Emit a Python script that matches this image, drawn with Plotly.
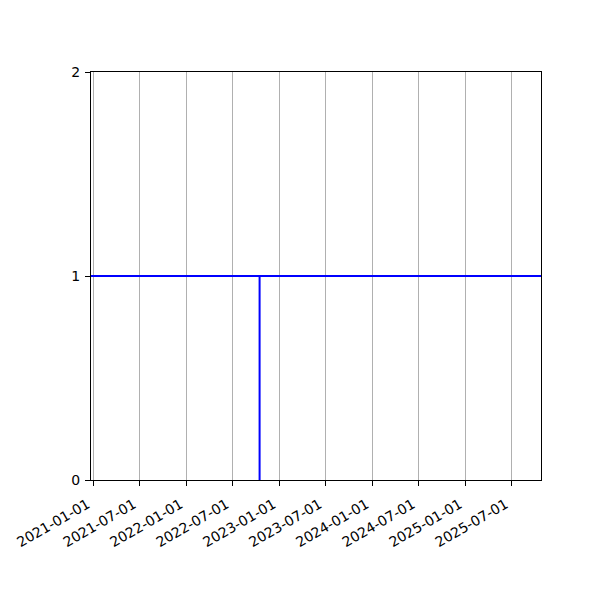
import plotly.graph_objects as go

# data
dates = ["2020-12-22", "2022-10-15", "2022-10-15", "2022-10-15", "2025-10-24"]
values = [1, 1, 0, 1, 1]
tick_dates = ["2021-01-01", "2021-07-01", "2022-01-01", "2022-07-01", "2023-01-01",
              "2023-07-01", "2024-01-01", "2024-07-01", "2025-01-01", "2025-07-01"]
x_limits = ["2020-12-22", "2025-10-24"]
y_ticks = [0, 1, 2]

fig = go.Figure()
fig.add_trace(go.Scatter(x=dates, y=values, mode="lines",
                         line=dict(color="#0000ff", width=2), showlegend=False))

# page body has an 8px default margin, so shift the plot area back by that
fig.update_layout(
    width=600, height=600,
    margin=dict(l=83, r=67, t=64, b=128, autoexpand=False),
    paper_bgcolor="white", plot_bgcolor="white",
    font=dict(family="DejaVu Sans", size=14, color="black"),
)
fig.update_xaxes(
    range=x_limits, tickvals=tick_dates, ticktext=tick_dates, tickangle=-30,
    showgrid=True, gridcolor="#b0b0b0", gridwidth=1,
    showline=True, linecolor="black", linewidth=1, mirror=True,
    ticks="outside", ticklen=5, tickcolor="black", zeroline=False,
    ticklabelstandoff=5, ticklabelshift=-6, automargin=False,
)
fig.update_yaxes(
    range=[0, 2], tickvals=y_ticks, showgrid=False,
    showline=True, linecolor="black", linewidth=1, mirror=True,
    ticks="outside", ticklen=5, tickcolor="black", zeroline=False,
    ticklabelstandoff=2, automargin=False,
)

fig.write_html("out.html")
